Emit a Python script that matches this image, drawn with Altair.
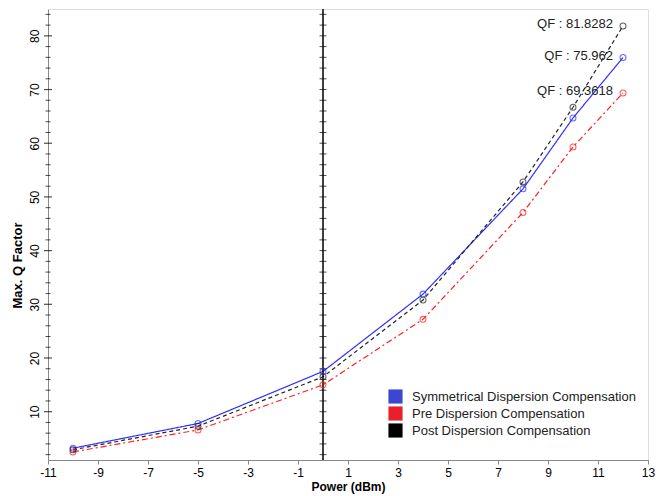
import altair as alt
import pandas as pd

series_names = ["Symmetrical Dispersion Compensation",
                "Pre Dispersion Compensation",
                "Post Dispersion Compensation"]
power = [-10, -5, 0, 4, 8, 10, 12]
sym_q = [3.2, 7.8, 17.5, 31.9, 51.5, 64.7, 75.962]
pre_q = [2.5, 6.6, 15.0, 27.2, 47.1, 59.3, 69.3618]
post_q = [2.9, 7.3, 16.5, 30.8, 52.8, 66.7, 81.8282]
qf_labels = ["QF : 75.962", "QF : 69.3618", "QF : 81.8282"]

x_ticks = [-11 + 0.25 * i for i in range(97)]
y_major = [10, 20, 30, 40, 50, 60, 70, 80]
y_minor = [v for v in range(2, 85, 2) if v % 10 != 0]
y_all = list(range(2, 85, 2))

rows = []
for name, vals in zip(series_names, [sym_q, pre_q, post_q]):
    for p, q in zip(power, vals):
        rows.append({"power": p, "q": q, "series": name, "legend_series": name})
df = pd.DataFrame(rows)

end_df = pd.DataFrame({
    "power": [power[-1]] * 3,
    "q": [sym_q[-1], pre_q[-1], post_q[-1]],
    "label": qf_labels,
})
zero_df = pd.DataFrame({"power": [0]})
zero_ticks = pd.DataFrame({"power": [0] * len(y_all), "q": y_all})
left_minor = pd.DataFrame({"power": [-11] * len(y_minor), "q": y_minor})
left_major = pd.DataFrame({"power": [-11] * len(y_major), "q": y_major})

FONT = "Liberation Sans"

x_enc = alt.X("power:Q", scale=alt.Scale(domain=[-11, 13], nice=False, zero=False),
              axis=alt.Axis(values=x_ticks, title="Power (dBm)",
                            labelExpr="abs(datum.value % 2) == 1 ? '' + datum.value : ''",
                            labelOverlap=False, labelFlush=False,
                            tickSize={"condition": {"test": "datum.value % 1 == 0", "value": 4}, "value": 2},
                            labelFontSize=12, labelPadding=3,
                            titleFontSize=12, titleFontWeight="bold", titlePadding=3,
                            grid=False))
y_enc = alt.Y("q:Q", scale=alt.Scale(domain=[1, 85], nice=False, zero=False),
              axis=alt.Axis(values=y_major, title="Max. Q Factor",
                            labelExpr="'' + datum.value",
                            labelOverlap=False, labelAngle=-90, labelFlush=False,
                            tickSize=0, ticks=False,
                            labelFontSize=12, labelPadding=7,
                            titleFontSize=13, titleFontWeight="bold", titleY=256,
                            titlePadding=4, grid=False))

stroke_scale = alt.Scale(domain=series_names, range=["#2f2fff", "#ff1f1f", "#222222"])
dash_scale = alt.Scale(domain=series_names, range=[[1, 0], [6, 3, 2, 3], [4, 3]])
fill_scale = alt.Scale(domain=series_names, range=["#3c46d2", "#e8202a", "#000000"])

base = alt.Chart(df)

legend_layer = base.mark_point(shape="square", filled=True, size=0).encode(
    x=x_enc, y=y_enc,
    color=alt.Color("legend_series:N", scale=fill_scale,
                    legend=alt.Legend(title=None, orient="none", legendX=340, legendY=380,
                                      symbolType="square", symbolSize=200, symbolOpacity=1,
                                      symbolStrokeWidth=0,
                                      labelFontSize=13, labelFont=FONT, labelColor="#222",
                                      labelOffset=9, rowPadding=2, padding=0,
                                      labelLimit=400)),
)
lines = base.mark_line(strokeWidth=1.2).encode(
    x="power:Q", y="q:Q",
    stroke=alt.Stroke("series:N", scale=stroke_scale, legend=None),
    strokeDash=alt.StrokeDash("series:N", scale=dash_scale, legend=None),
    detail="series:N",
)
points = base.mark_point(shape="circle", filled=False, size=35, strokeWidth=1.1).encode(
    x="power:Q", y="q:Q",
    stroke=alt.Stroke("series:N", scale=stroke_scale, legend=None),
)
zero_rule = alt.Chart(zero_df).mark_rule(color="black", strokeWidth=1.5).encode(x="power:Q")
zero_tk = alt.Chart(zero_ticks).mark_tick(orient="horizontal", size=7, thickness=1,
                                          color="black").encode(x="power:Q", y="q:Q")
left_minor_tk = alt.Chart(left_minor).mark_tick(orient="horizontal", size=5, thickness=1,
                                                color="black").encode(x="power:Q", y="q:Q")
left_major_tk = alt.Chart(left_major).mark_tick(orient="horizontal", size=8, thickness=1.2,
                                                color="black").encode(x="power:Q", y="q:Q")
texts = alt.Chart(end_df).mark_text(align="right", baseline="middle", dx=-10, dy=-2,
                                    fontSize=13, font=FONT, color="#222").encode(
    x="power:Q", y="q:Q", text="label:N")

chart = alt.layer(legend_layer, lines, zero_rule, zero_tk, left_minor_tk, left_major_tk,
                  points, texts).properties(
    width=600, height=451,
    autosize=alt.AutoSizeParams(type="none"),
    padding={"left": 40, "top": 1, "right": 8, "bottom": 34},
).configure_view(stroke="#999", strokeDash=[1, 1]).configure_axis(
    domainColor="black", domainWidth=1.5, tickColor="black", labelColor="black",
    titleColor="black", labelFont=FONT, titleFont=FONT, labelOverlap=False,
).configure(background="white")

chart.save("out.html", embed_options={"renderer": "svg", "actions": False})
